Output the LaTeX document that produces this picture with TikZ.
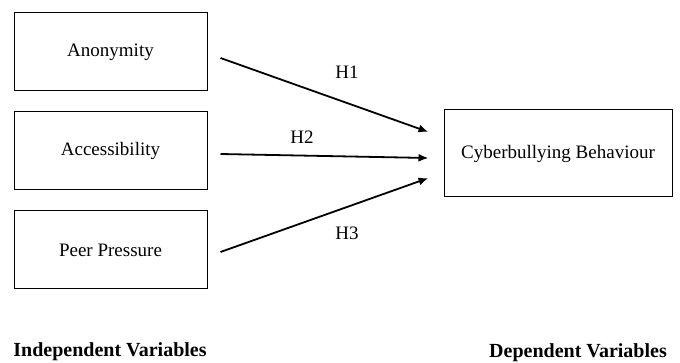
\documentclass[tikz,border=0pt]{standalone}
\usepackage{fontspec}
\setmainfont{Liberation Serif}
\usetikzlibrary{arrows.meta,positioning}

\begin{document}
\begin{tikzpicture}[x=1pt,y=-1pt,node distance=99pt,on grid,
    every node/.style={font=\fontsize{19}{23}\selectfont},
    varbox/.style={draw,line width=1pt,minimum width=193pt,minimum height=78pt,inner sep=0pt},
    legend/.style={font=\fontsize{20}{24}\selectfont\bfseries},
    hyp/.style={-{Latex[length=10pt,width=8pt]},line width=1.8pt}]
      \useasboundingbox (0,0) rectangle (680,363);
      \node[varbox] (anonymity) at (110.5,52) {Anonymity};
      \node[varbox] (accessibility) [below=of anonymity] {Accessibility};
      \node[varbox] (peer) [below=of accessibility] {Peer Pressure};

      \node[varbox,minimum width=228pt,minimum height=87pt] (cyber) at (558,153.5) {Cyberbullying Behaviour};

      \draw[hyp] ([xshift=13pt,yshift=-6pt]anonymity.east) -- ([xshift=-15pt,yshift=21.5pt]cyber.west);
      \draw[hyp] ([xshift=13pt,yshift=-3pt]accessibility.east) -- ([xshift=-15pt,yshift=-4.5pt]cyber.west);
      \draw[hyp] ([xshift=13pt,yshift=-2pt]peer.east) -- ([xshift=-15pt,yshift=-24.5pt]cyber.west);

      \node (h1) at (347,72) {H1};
      \node (h2) at (302,137) {H2};
      \node (h3) at (347,233) {H3};

      \node[legend] (indep) at (110,352) {Independent Variables};
      \node[legend] (dep) at (578,353) {Dependent Variables};
\end{tikzpicture}
\end{document}
